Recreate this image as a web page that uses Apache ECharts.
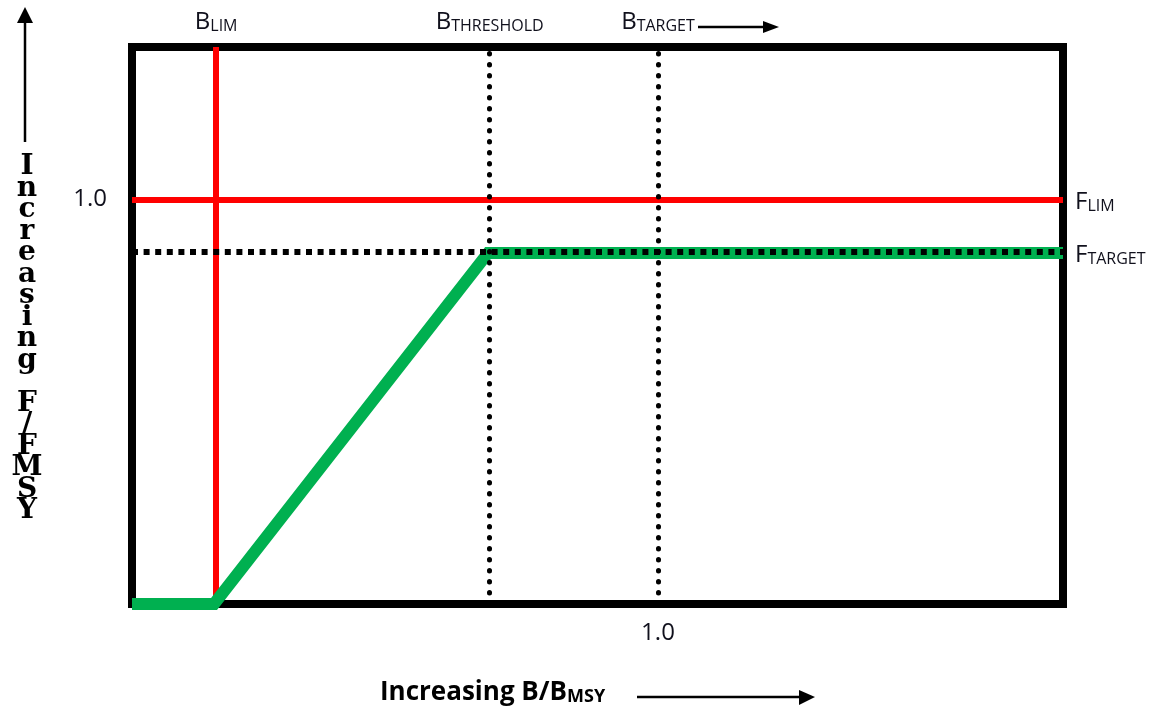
<!DOCTYPE html>
<html>
<head>
<meta charset="utf-8">
<script src="https://cdn.jsdelivr.net/npm/echarts@6/dist/echarts.min.js"></script>
<style>
html,body{margin:0;padding:0;background:#fff;}
#chart{width:1156px;height:713px;}
</style>
</head>
<body>
<div id="chart"></div>
<script>
// ---- data (B/BMSY on x, F/FMSY on y) ----
const X_MAX = 1.77;            // right edge of the plot box
const Y_MAX = 1.377;           // top edge of the plot box
const B_LIM = 0.156;
const B_THRESHOLD = 0.677;
const B_TARGET = 1.0;
const F_LIM = 1.0;
const F_TARGET = 0.868;
// harvest control rule (green)
const HCR_X = [0, B_LIM, B_THRESHOLD, X_MAX];
const HCR_Y = [0, 0, F_TARGET, F_TARGET];
// tick labels
const X_TICK_VALUES = [1.0];
const X_TICK_LABELS = ['1.0'];
const Y_TICK_VALUES = [1.0];
const Y_TICK_LABELS = ['1.0'];
// texts
const LBL_BLIM = ['B', 'LIM'];
const LBL_BTHRESH = ['B', 'THRESHOLD'];
const LBL_BTARGET = ['B', 'TARGET'];
const LBL_FLIM = ['F', 'LIM'];
const LBL_FTARGET = ['F', 'TARGET'];
const X_TITLE = ['Increasing B/B', 'MSY'];
const Y_TITLE = 'Increasing F/FMSY';

const TXT = '#10101c';
const FONT = 'Open Sans';
const rich = {
  b: {fontFamily: FONT, fontSize: 24, lineHeight: 30, verticalAlign: 'bottom', color: TXT},
  s: {fontFamily: FONT, fontSize: 16, lineHeight: 18, verticalAlign: 'bottom', color: TXT},
  tb: {fontFamily: FONT, fontSize: 26, fontWeight: 'bold', lineHeight: 32, verticalAlign: 'bottom', color: TXT},
  ts: {fontFamily: FONT, fontSize: 18, fontWeight: 'bold', lineHeight: 20, verticalAlign: 'bottom', color: TXT}
};
const sub = (p) => '{b|' + p[0] + '}{s|' + p[1] + '}';

const chart = echarts.init(document.getElementById('chart'), null, {renderer: 'canvas'});

const tickFmt = (vals, labels) => (v) => {
  const i = vals.findIndex(t => Math.abs(t - v) < 1e-9);
  return i >= 0 ? labels[i] : '';
};

const dotV = {color: '#000', width: 5, type: [0.5, 10.5], cap: 'round'};
const dotH = {color: '#000', width: 6, type: [6, 5.6], cap: 'butt'};

const option = {
  animation: false,
  backgroundColor: '#fff',
  grid: {
    left: 132, right: 93, top: 47, bottom: 109,
    show: true, borderColor: '#000', borderWidth: 8, backgroundColor: 'transparent'
  },
  xAxis: {
    type: 'value', min: 0, max: X_MAX, interval: 0.5,
    axisLine: {show: false}, axisTick: {show: false}, splitLine: {show: false},
    axisLabel: {formatter: tickFmt(X_TICK_VALUES, X_TICK_LABELS), fontFamily: FONT, fontSize: 24, color: TXT, margin: 17, showMaxLabel: false}
  },
  yAxis: {
    type: 'value', min: 0, max: Y_MAX, interval: 0.5,
    axisLine: {show: false}, axisTick: {show: false}, splitLine: {show: false},
    axisLabel: {formatter: tickFmt(Y_TICK_VALUES, Y_TICK_LABELS), fontFamily: FONT, fontSize: 24, color: TXT, margin: 25, showMaxLabel: false}
  },
  series: [
    {
      name: 'limits', type: 'line', data: [], z: 1,
      markLine: {
        z: 1, silent: true, symbol: 'none',
        lineStyle: {color: '#ff0000', width: 6, type: 'solid'},
        data: [
          {xAxis: B_LIM, label: {show: true, position: 'end', distance: 13, formatter: sub(LBL_BLIM), rich: rich}},
          {yAxis: F_LIM, label: {show: true, position: 'end', distance: 12, formatter: sub(LBL_FLIM), rich: rich, align: 'left'}}
        ]
      }
    },
    {
      name: 'HCR', type: 'line', z: 2,
      data: HCR_X.map((x, i) => [x, HCR_Y[i]]),
      showSymbol: false, symbol: 'none',
      lineStyle: {color: '#00b050', width: 12, cap: 'butt', join: 'miter'}
    },
    {
      name: 'reference', type: 'line', data: [], z: 3,
      markLine: {
        silent: true, symbol: 'none',
        data: [
          {xAxis: B_THRESHOLD, lineStyle: dotV, label: {show: true, position: 'end', distance: 13, formatter: sub(LBL_BTHRESH), rich: rich}},
          {xAxis: B_TARGET, lineStyle: dotV, label: {show: true, position: 'end', distance: 13, formatter: sub(LBL_BTARGET), rich: rich}},
          {yAxis: F_TARGET, lineStyle: dotH, label: {show: true, position: 'end', distance: 12, formatter: sub(LBL_FTARGET), rich: rich, align: 'left'}}
        ]
      }
    }
  ],
  graphic: [
    // y-axis title (stacked letters)
    {type: 'text', x: 27, y: 156, style: {
      x: 0, y: 0, text: Y_TITLE.split('').join('\n'), fill: '#000', align: 'center', verticalAlign: 'top',
      font: 'bold 28px "DejaVu Serif"', lineHeight: 21.5
    }},
    // up arrow
    {type: 'line', shape: {x1: 25, y1: 20, x2: 25, y2: 142}, style: {stroke: '#000', lineWidth: 2.5}},
    {type: 'polygon', shape: {points: [[17, 23], [33, 23], [25, 7]]}, style: {fill: '#000'}},
    // x-axis title
    {type: 'text', left: 380, top: 680, style: {
      text: '{tb|' + X_TITLE[0] + '}{ts|' + X_TITLE[1] + '}', rich: rich
    }},
    {type: 'line', shape: {x1: 637, y1: 697, x2: 802, y2: 697}, style: {stroke: '#000', lineWidth: 2.5}},
    {type: 'polygon', shape: {points: [[799, 690], [799, 705], [815, 697]]}, style: {fill: '#000'}},
    // arrow after B target
    {type: 'line', shape: {x1: 698, y1: 27, x2: 766, y2: 27}, style: {stroke: '#000', lineWidth: 2.5}},
    {type: 'polygon', shape: {points: [[763, 21], [763, 33], [779, 27]]}, style: {fill: '#000'}}
  ]
};
chart.setOption(option);
</script>
</body>
</html>
